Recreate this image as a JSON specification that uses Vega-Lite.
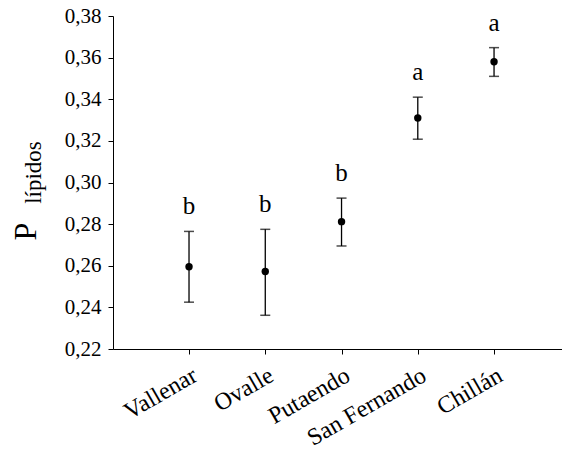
{
  "$schema": "https://vega.github.io/schema/vega-lite/v6.json",
  "autosize": {"type": "none"},
  "padding": {"left": 113, "top": 16, "right": 0, "bottom": 121},
  "width": 449,
  "height": 333,
  "background": "white",
  "config": {
    "view": {"stroke": null},
    "font": "Liberation Serif",
    "axis": {
      "labelFont": "Liberation Serif",
      "titleFont": "Liberation Serif",
      "labelColor": "black",
      "titleColor": "black",
      "domainColor": "black",
      "tickColor": "black",
      "grid": false,
      "titleFontWeight": "normal"
    }
  },
  "data": {
    "values": [
      {"site": "Vallenar", "mean": 0.2595, "lo": 0.2425, "hi": 0.2765, "letter": "b"},
      {"site": "Ovalle", "mean": 0.2572, "lo": 0.2362, "hi": 0.2775, "letter": "b"},
      {"site": "Putaendo", "mean": 0.2812, "lo": 0.2695, "hi": 0.2925, "letter": "b"},
      {"site": "San Fernando", "mean": 0.331, "lo": 0.3208, "hi": 0.341, "letter": "a"},
      {"site": "Chillán", "mean": 0.358, "lo": 0.351, "hi": 0.3648, "letter": "a"}
    ]
  },
  "encoding": {
    "x": {
      "field": "site",
      "type": "nominal",
      "sort": null,
      "scale": {"type": "point", "padding": 0.944, "align": 0.528},
      "axis": {
        "title": null,
        "labelAngle": -30,
        "labelFont": "Liberation Serif",
        "labelFontSize": 24,
        "tickSize": 5,
        "labelPadding": 9
      }
    }
  },
  "layer": [
    {
      "encoding": {
        "y": {
          "field": "lo",
          "type": "quantitative",
          "scale": {"domain": [0.22, 0.38], "nice": false, "zero": false},
          "axis": {
            "title": "P",
            "titleFont": "Liberation Serif",
            "titleFontSize": 32,
            "titleAngle": -90,
            "titleX": -78,
            "titleY": 215,
            "titleAlign": "center",
            "titleBaseline": "alphabetic",
            "values": [0.22, 0.24, 0.26, 0.28, 0.30, 0.32, 0.34, 0.36, 0.38],
            "labelExpr": "replace(format(datum.value, '.2f'), '.', ',')",
            "labelFont": "Liberation Serif",
            "labelFontSize": 21,
            "tickSize": 5,
            "labelPadding": 7
          }
        }
      },
      "layer": [
        {
          "mark": {"type": "rule", "color": "black", "strokeWidth": 1.3},
          "encoding": {"y2": {"field": "hi"}}
        },
        {
          "mark": {"type": "tick", "orient": "horizontal", "color": "black", "size": 10, "thickness": 1.5},
          "encoding": {"y": {"field": "hi", "type": "quantitative"}}
        },
        {
          "mark": {"type": "tick", "orient": "horizontal", "color": "black", "size": 10, "thickness": 1.5},
          "encoding": {"y": {"field": "lo", "type": "quantitative"}}
        },
        {
          "mark": {"type": "point", "filled": true, "color": "black", "size": 55, "opacity": 1},
          "encoding": {"y": {"field": "mean", "type": "quantitative"}}
        }
      ]
    },
    {
      "mark": {"type": "text", "color": "black", "fontSize": 25, "baseline": "alphabetic", "dy": -17, "font": "Liberation Serif"},
      "encoding": {
        "y": {
          "field": "hi",
          "type": "quantitative",
          "scale": {"domain": [0.22, 0.38], "nice": false, "zero": false},
          "axis": {
            "title": "lípidos",
            "titleFont": "Liberation Serif",
            "titleFontSize": 23,
            "titleAngle": -90,
            "titleX": -73,
            "titleY": 156,
            "titleAlign": "center",
            "titleBaseline": "alphabetic",
            "labels": false,
            "ticks": false,
            "domain": false,
            "orient": "left"
          }
        },
        "text": {"field": "letter"}
      }
    }
  ],
  "resolve": {"scale": {"y": "independent"}, "axis": {"y": "independent"}}
}
